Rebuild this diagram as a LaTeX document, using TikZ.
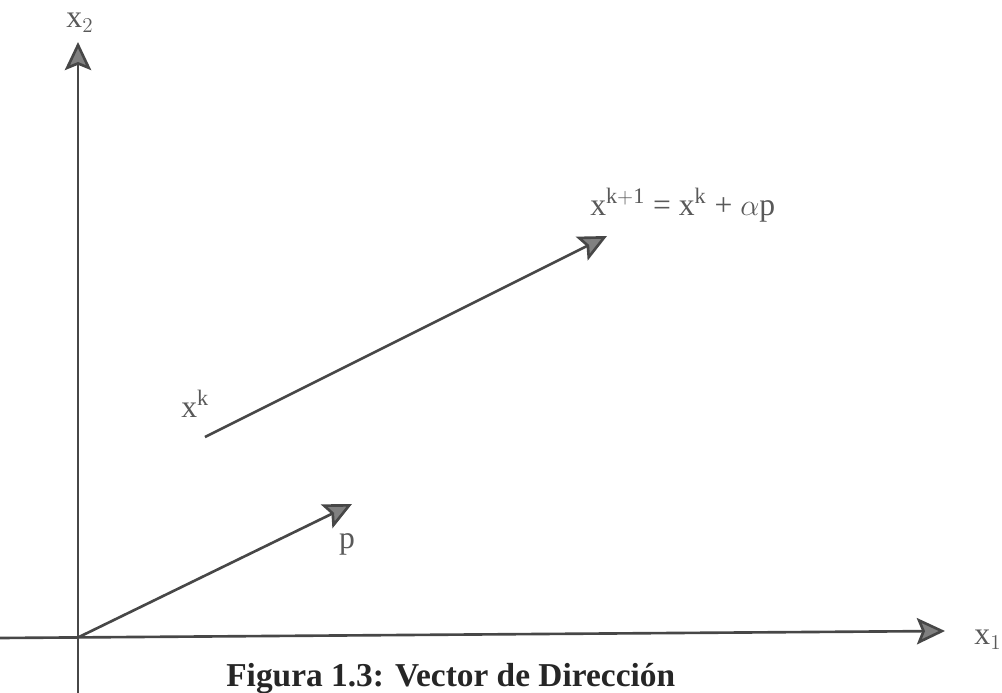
\documentclass[tikz,border=0pt]{standalone}
\usepackage{fontspec}
\setmainfont{Liberation Serif}
\usetikzlibrary{arrows.meta}

\begin{document}
\begin{tikzpicture}[x=0.02cm, y=-0.02cm,
  vec/.style = {draw=black!72, line width=1.5pt, -{Stealth[length=16pt, width=15pt, inset=3pt, fill=black!50]}},
  lbl/.style = {text=black!65, inner sep=0pt, font=\fontsize{18}{21}\selectfont}]
  \useasboundingbox (0,0) rectangle (1002,693);

  % axes
  \coordinate (o) at (79,637);
  \coordinate (ybot) at (78,700);
  \coordinate (ytop) at (78,42);
  \coordinate (xleft) at (0,638);
  \coordinate (xright) at (945,631);
  \draw[vec] (ybot) -- (ytop);
  \draw[vec] (xleft) -- (xright);
  \node[lbl] (x2) at (80,23) {x$_2$};
  \node[lbl] (x1) at (988,640) {x$_1$};

  % direction p
  \coordinate (pend) at (352,504);
  \draw[vec] (o) -- (pend);
  \node[lbl] (p) at (347,544) {p};

  % step from x^k
  \coordinate (xk) at (205,437);
  \coordinate (xnew) at (607,236);
  \draw[vec] (xk) -- (xnew);
  \node[lbl, anchor=base west] (xklbl) at (181,417) {x$^{\mathrm{k}}$};
  \node[lbl, anchor=base west] (xnewlbl) at (590,215) {x$^{\mathrm{k+1}}$ = x$^{\mathrm{k}}$ + $\alpha$p};

  \node[anchor=base west, inner sep=0pt, font=\fontsize{19}{22}\selectfont\bfseries, text=black!85] (cap) at (226,686) {Figura 1.3: Vector de Dirección};
\end{tikzpicture}
\end{document}
